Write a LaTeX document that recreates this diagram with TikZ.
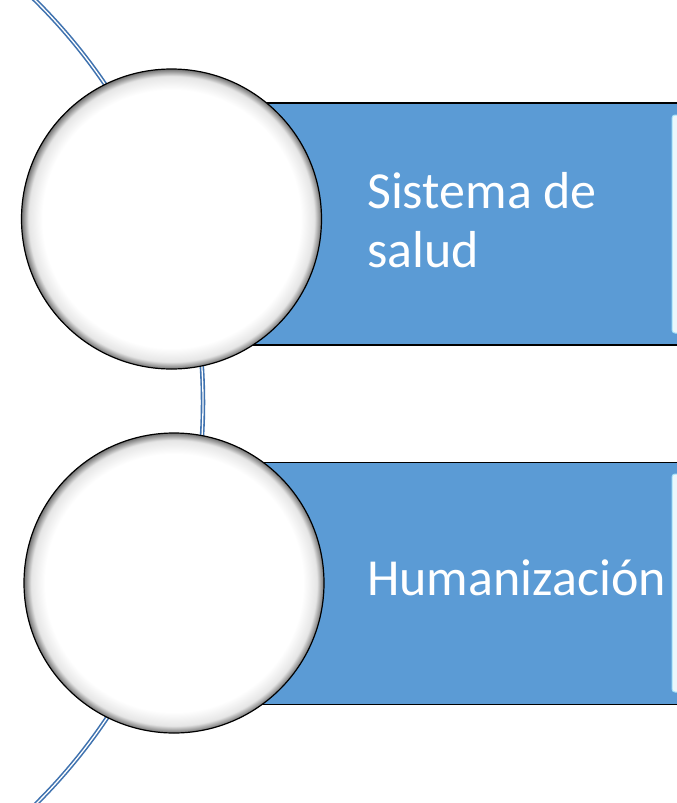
\documentclass[tikz,border=0pt]{standalone}
\usepackage{fontspec}
\setmainfont{Carlito}
\definecolor{barblue}{HTML}{5B9BD5}
\definecolor{spineblue}{HTML}{3F72AF}
\definecolor{panelcyan}{HTML}{EAF8FD}
\pgfdeclareradialshading{bubble}{\pgfpoint{0bp}{0bp}}{color(0bp)=(white); color(21.5bp)=(white); color(23.8bp)=(black!10); color(25bp)=(black!55); color(50bp)=(black!55)}
\begin{document}
\begin{tikzpicture}[x=1pt,y=-1pt]
      % Define styles for nodes
      \tikzstyle{bar} = [draw, rectangle, fill=barblue, line width=1.2pt,
      minimum width=528pt, minimum height=242pt, inner sep=0pt]
      \tikzstyle{panel} = [draw=cyan!35, rectangle, rounded corners=3pt,
      fill=panelcyan, line width=1pt, minimum width=40pt, minimum height=218pt]
      \tikzstyle{bubble} = [draw, circle, shading=bubble, line width=1.2pt,
      minimum size=300pt, inner sep=0pt]
      \tikzstyle{label} = [text=white, align=left, inner sep=0pt,
      font=\fontsize{52}{59}\selectfont]
      \tikzstyle{spine} = [draw=spineblue, double=white, double distance=1.3pt,
      line width=1.6pt]

      \useasboundingbox (0,0) rectangle (677,803);
      \clip (0,0) rectangle (677,803);
      \fill[white] (0,0) rectangle (677,803);

      % Blue arc behind the circles
      \draw[spine] (-363,402.5) ++(-47:566) arc[start angle=-47, end angle=47, radius=566];

      % Blue bars
      \node[bar] (bar1) at (436,224) {};
      \node[bar] (bar2) at (436,583.5) {};
      \node[panel] (panel1) at (692,224) {};
      \node[panel] (panel2) at (692,583) {};

      % Texts
      \node[label, anchor=west] (text1) at (367,220) {Sistema de\\salud};
      \node[label, anchor=base west] (text2) at (367,595) {Humanización};

      % Circles
      \node[bubble] (circle1) at (171.5,219) {};
      \node[bubble] (circle2) at (174,583) {};

\end{tikzpicture}
\end{document}
